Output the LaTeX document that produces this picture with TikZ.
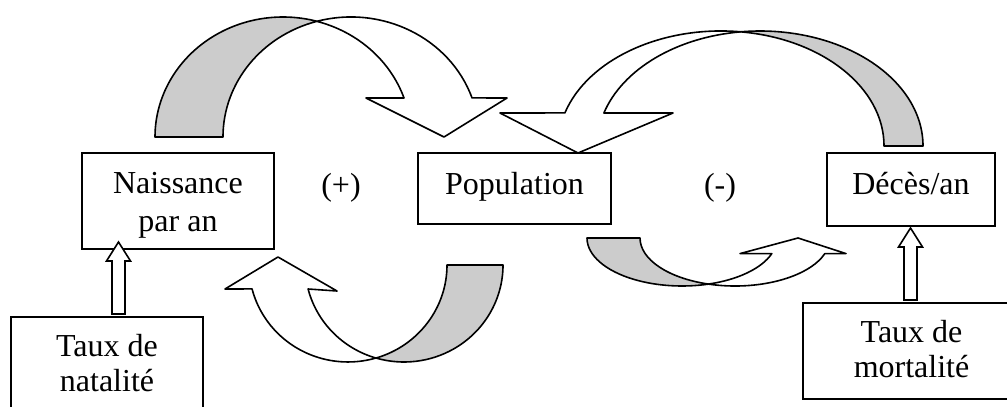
\documentclass[tikz,border=0pt]{standalone}
\usepackage{fontspec}
\setmainfont{Liberation Serif}
\usetikzlibrary{calc}
\definecolor{RibbonGray}{HTML}{CCCCCC}

\begin{document}
\begin{tikzpicture}[
    x=0.375pt, y=-0.375pt,
    box/.style={draw, fill=white, line width=0.6pt, inner sep=0pt, outer sep=0pt,
        anchor=north west, align=center, font=\fontsize{12}{13.2}\selectfont},
    sign/.style={font=\fontsize{12}{13.8}\selectfont},
    front/.style={fill=white, draw=black, line width=0.6pt, line join=round},
    back/.style={fill=RibbonGray, draw=black, line width=0.6pt, line join=round},
    fat/.style={fill=white, draw=black, line width=0.6pt}
]
% Frame: the page cuts the lower boxes
\useasboundingbox (0,0) rectangle (1007,406);
\clip (0,0) rectangle (1007,406);

% Stocks and flows
\node[box, font=\fontsize{12}{14.4}\selectfont, minimum width=72pt, text height=29.4pt, text depth=6.6pt] (nais) at (82,153) {Naissance\\par an};
\node[box, minimum width=72.4pt, text height=15.4pt, text depth=11.2pt] (pop) at (418,153) {Population};
\node[box, minimum width=63pt, text height=15.7pt, text depth=11.7pt] (deces) at (827,153) {Décès/an};

% Rates
\node[box, minimum width=72pt, text height=28.1pt, text depth=7.9pt] (natal) at (11,317) {Taux de\\natalité};
\node[box, minimum width=81.4pt, text height=28.1pt, text depth=7.9pt] (mort) at (803,303) {Taux de\\mortalité};

% Loop polarities
\node[sign] (plus) at (341,188) {(+)};
\node[sign] (minus) at (720,188) {(-)};

% Rate arrows (up into the flow boxes)
\foreach \src in {natal, mort} {
    \draw[fat] ($(\src.north west)+(101,-3)$) -- ++(0,-53) -- ++(-5.5,0) -- ++(12,-19)
        -- ++(12,19) -- ++(-5.5,0) -- ++(0,53) -- cycle;
}

% Births -> population (top left)
\draw[front] (317,21.3) arc[start angle=254.6, end angle=341, x radius=128, y radius=120]
    -- (507,98) -- (444,137) -- (366,98) -- (404,98)
    arc[start angle=341, end angle=285.4, x radius=128, y radius=120] -- cycle;
\draw[back] (155,137) arc[start angle=180, end angle=285.4, x radius=128, y radius=120]
    arc[start angle=254.6, end angle=180, x radius=128, y radius=120] -- cycle;

% Deaths -> population (top right)
\draw[front] (740.5,31.8) arc[start angle=276.87, end angle=196.7, x radius=163, y radius=115]
    -- (500,113) -- (578,153) -- (673,113) -- (603.9,113)
    arc[start angle=196.7, end angle=263.13, x radius=163, y radius=115] -- cycle;
\draw[back] (923,146) arc[start angle=360, end angle=263.13, x radius=163, y radius=115]
    arc[start angle=276.87, end angle=360, x radius=163, y radius=115] -- cycle;

% Population -> births (bottom left)
\draw[front] (376,358) arc[start angle=73.57, end angle=165.7, x radius=99, y radius=97]
    -- (225,289) -- (278,257) -- (337,291) -- (308.1,289)
    arc[start angle=165.7, end angle=106.43, x radius=99, y radius=97] -- cycle;
\draw[back] (503,265) arc[start angle=0, end angle=106.43, x radius=99, y radius=97]
    arc[start angle=73.57, end angle=0, x radius=99, y radius=97] -- cycle;

% Population -> deaths (bottom right)
\draw[front] (708.5,284.1) arc[start angle=106.2, end angle=19, x radius=95, y radius=48]
    -- (846,253.6) -- (798,238) -- (740,253.6) -- (771.8,253.6)
    arc[start angle=19, end angle=73.8, x radius=95, y radius=48] -- cycle;
\draw[back] (587,238) arc[start angle=180, end angle=73.8, x radius=95, y radius=48]
    arc[start angle=106.2, end angle=180, x radius=95, y radius=48] -- cycle;
\end{tikzpicture}
\end{document}
